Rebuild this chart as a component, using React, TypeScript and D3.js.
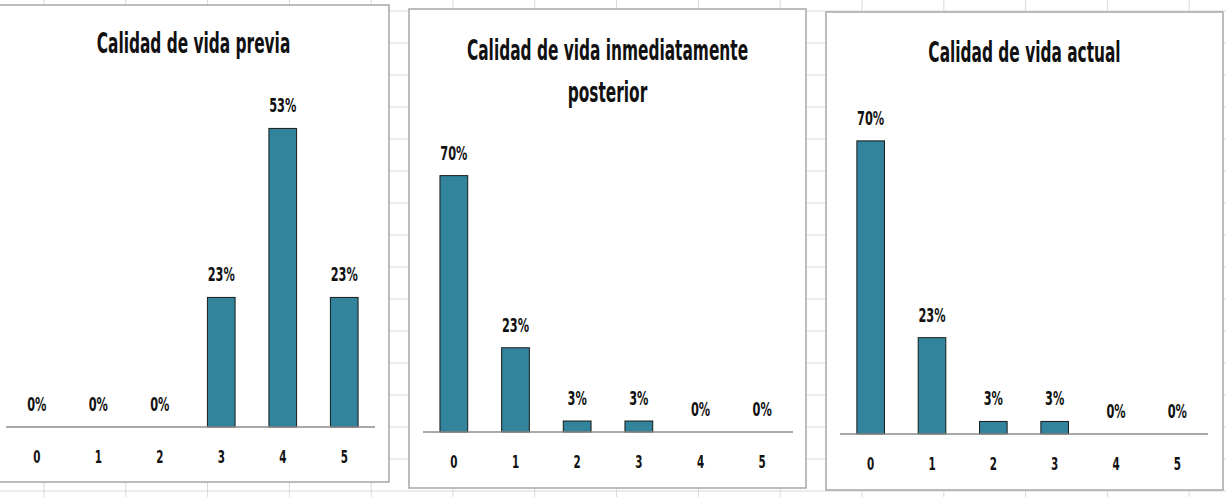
import React, { useEffect, useRef } from 'react';
import * as d3 from 'd3';

// puntuación de calidad de vida (0-5) y % de pacientes
const categories = ['0', '1', '2', '3', '4', '5'];
const previa = [0, 0, 0, 23, 53, 23];
const inmediata = [70, 23, 3, 3, 0, 0];
const actual = [70, 23, 3, 3, 0, 0];

const titlePrevia = ['Calidad de vida previa'];
const titleInmediata = ['Calidad de vida inmediatamente', 'posterior'];
const titleActual = ['Calidad de vida actual'];

const W = 1226;
const H = 497;
const FONT = "'Liberation Sans Narrow', 'DejaVu Sans Condensed', 'Arial Narrow', sans-serif";
const BAR = '#31849b';

type Panel = {
  values: number[];
  title: string[];
  yMax: number;
  box: [number, number, number, number]; // x, y, w, h
  plot: { x0: number; x1: number; top: number; base: number };
  titleY: number;
};

const panels: Panel[] = [
  { values: previa, title: titlePrevia, yMax: 60, box: [-2, 5, 391, 477], plot: { x0: 6, x1: 375, top: 89, base: 427 }, titleY: 53 },
  { values: inmediata, title: titleInmediata, yMax: 80, box: [409, 9, 397, 479], plot: { x0: 423, x1: 793, top: 139, base: 432 }, titleY: 60 },
  { values: actual, title: titleActual, yMax: 80, box: [826, 12, 397, 478], plot: { x0: 840, x1: 1208, top: 99, base: 434 }, titleY: 62 },
];

export default function App() {
  const ref = useRef<SVGSVGElement>(null);

  useEffect(() => {
    if (!ref.current) return;
    const svg = d3.select(ref.current);
    svg.selectAll('*').remove();

    // hoja de cálculo de fondo
    svg.append('rect').attr('width', W).attr('height', H).attr('fill', '#fff');
    const grid = svg.append('g').attr('stroke', '#d9d9d9').attr('stroke-width', 1);
    d3.range(44, W, 81.8).forEach(x => {
      grid.append('line').attr('x1', x).attr('x2', x).attr('y1', 0).attr('y2', H);
    });
    d3.range(11, H, 32).forEach(y => {
      grid.append('line').attr('x1', 0).attr('x2', W).attr('y1', y).attr('y2', y);
    });

    const squashText = (
      g: d3.Selection<SVGGElement, unknown, null, undefined>,
      x: number, y: number, txt: string, size: number, sx: number
    ) => {
      g.append('g')
        .attr('transform', `translate(${x},${y}) scale(${sx},1)`)
        .append('text')
        .attr('text-anchor', 'middle')
        .attr('font-family', FONT)
        .attr('font-weight', 'bold')
        .attr('font-size', size)
        .attr('fill', '#111')
        .text(txt);
    };

    panels.forEach(p => {
      const [bx, by, bw, bh] = p.box;
      const g = svg.append('g');
      g.append('rect')
        .attr('x', bx).attr('y', by).attr('width', bw).attr('height', bh)
        .attr('fill', '#fff').attr('stroke', '#a6a6a6').attr('stroke-width', 1.5);

      p.title.forEach((line, i) => {
        squashText(g, bx + bw / 2, p.titleY + i * 42, line, 29, 0.59);
      });

      const x = d3.scaleBand<string>()
        .domain(categories)
        .range([p.plot.x0, p.plot.x1])
        .paddingInner(0.55)
        .paddingOuter(0.275);
      const y = d3.scaleLinear().domain([0, p.yMax]).range([p.plot.base, p.plot.top]);

      g.selectAll('rect.bar')
        .data(p.values.map((v, i) => ({ v, c: categories[i] })).filter(d => d.v > 0))
        .join('rect')
        .attr('class', 'bar')
        .attr('x', d => x(d.c)!)
        .attr('width', x.bandwidth())
        .attr('y', d => y(d.v))
        .attr('height', d => y(0) - y(d.v))
        .attr('fill', BAR)
        .attr('stroke', '#1a1a1a')
        .attr('stroke-width', 1);

      g.append('line')
        .attr('x1', p.plot.x0).attr('x2', p.plot.x1)
        .attr('y1', y(0)).attr('y2', y(0))
        .attr('stroke', '#8c8c8c').attr('stroke-width', 1.5);

      p.values.forEach((v, i) => {
        const cx = x(categories[i])! + x.bandwidth() / 2;
        squashText(g, cx, y(v) - 16, `${v}%`, 20, 0.63);
        squashText(g, cx, y(0) + 36, categories[i], 18, 0.64);
      });
    });
  }, []);

  return (
    <svg
      ref={ref}
      width={W}
      height={H}
      style={{ position: 'absolute', left: 0, top: 0, display: 'block' }}
    />
  );
}
